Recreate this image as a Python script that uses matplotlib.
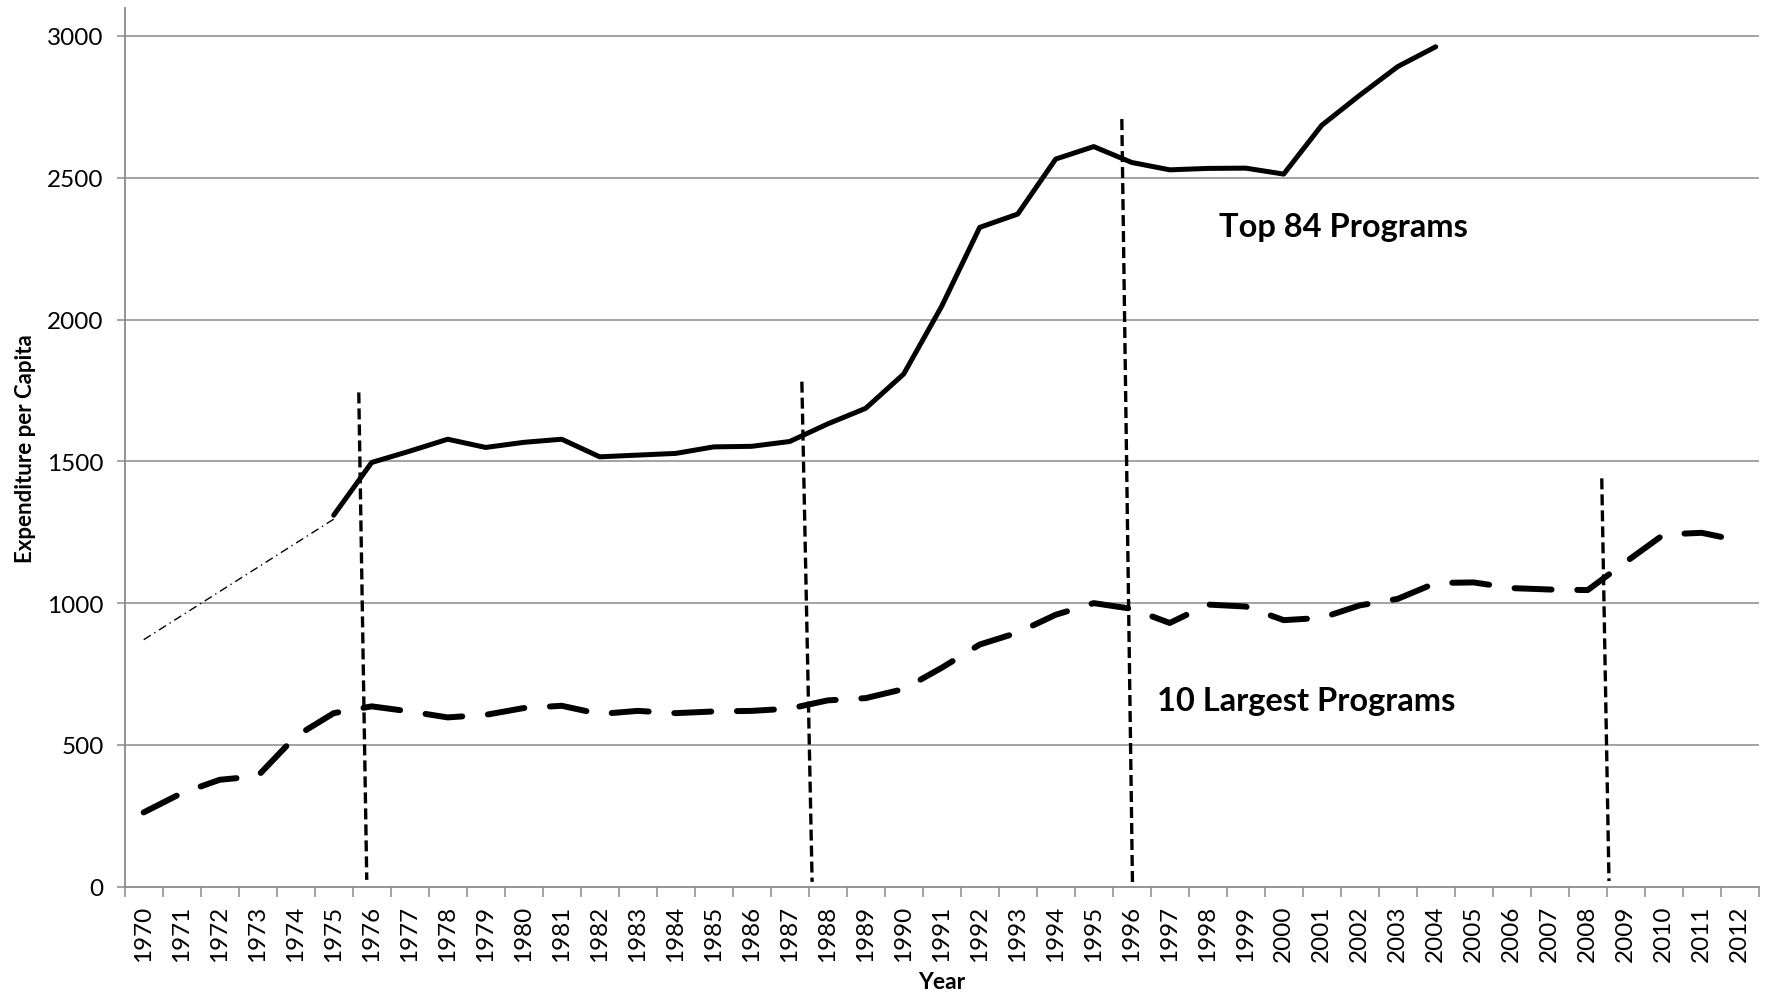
import matplotlib
matplotlib.use("Agg")
import matplotlib.pyplot as plt
import numpy as np

# ---------------- data ----------------
years = list(range(1970, 2013))

largest10 = [262, 330, 377, 390, 530, 612, 636, 618, 597, 606, 630, 638, 609, 620,
             612, 618, 620, 628, 657, 665, 697, 772, 854, 896, 959, 1000, 980, 930,
             995, 988, 940, 948, 992, 1015, 1071, 1073, 1053, 1048, 1046, 1145, 1242,
             1248, 1220]

top84_years = list(range(1975, 2005))
top84 = [1310, 1496, 1536, 1578, 1549, 1567, 1578, 1516, 1522, 1528, 1551, 1553,
         1570, 1632, 1687, 1808, 2047, 2325, 2372, 2566, 2610, 2554, 2528, 2533,
         2534, 2513, 2685, 2791, 2892, 2962]

backcast_years = [1970, 1975]
backcast = [871, 1296]

# vertical "break" markers (year position, value) top and bottom
break_top_x = [1975.66, 1987.32, 1995.74, 2008.37]
break_top_y = [1743, 1781, 2707, 1440]
break_bot_x = [1975.87, 1987.59, 1996.02, 2008.56]
break_bot_y = [24, 17, 16, 20]

yticks = [0, 500, 1000, 1500, 2000, 2500, 3000]
label_top = "Top 84 Programs"
label_low = "10 Largest Programs"

# ---------------- style ----------------
plt.rcParams['font.family'] = ['Lato', 'DejaVu Sans']
GRID = '#8a8a8a'

W, H = 1769, 995
fig = plt.figure(figsize=(W / 100, H / 100), dpi=100)
ax_left, ax_right = 124.7 / W, 1758.7 / W
ax_bottom, ax_top = (H - 887.7) / H, (H - 9) / H
ax = fig.add_axes([ax_left, ax_bottom, ax_right - ax_left, ax_top - ax_bottom])

ax.set_xlim(1969.5, 2012.5)
ax.set_ylim(0, 3098.7)

# grid
for v in yticks[1:]:
    ax.axhline(v, color=GRID, lw=1.1, zorder=1)

# series
ax.plot(backcast_years, backcast, color='black', lw=1.0,
        dashes=(6, 3, 1, 3), zorder=3)
ax.plot(top84_years, top84, color='black', lw=3.6, solid_capstyle='round',
        solid_joinstyle='round', zorder=4)
ax.plot(years, largest10, color='black', lw=4.3, dashes=(6.2, 4.3),
        dash_capstyle='round', dash_joinstyle='round', zorder=4)

for xt, yt, xb, yb in zip(break_top_x, break_top_y, break_bot_x, break_bot_y):
    ax.plot([xt, xb], [yt, yb], color='black', lw=2.4, dashes=(3.3, 1.5),
            dash_capstyle='butt', zorder=5)

# annotations
ax.text(1998.30, 2296, label_top, fontsize=23.5, fontweight='bold',
        ha='left', va='baseline', zorder=6)
ax.text(1996.66, 623, label_low, fontsize=23.5, fontweight='bold',
        ha='left', va='baseline', zorder=6)

# spines
for s in ['top', 'right']:
    ax.spines[s].set_visible(False)
for s in ['left', 'bottom']:
    ax.spines[s].set_color(GRID)
    ax.spines[s].set_linewidth(1.3)

# ticks
ax.set_yticks(yticks)
ax.set_yticklabels([str(v) for v in yticks])
ax.tick_params(axis='y', which='major', length=6, width=1.1, color=GRID,
               labelsize=17.5, pad=9, direction='out')

ax.set_xticks(years)
ax.set_xticklabels([str(y) for y in years], rotation=90)
ax.set_xticks(np.arange(1969.5, 2013.0, 1.0), minor=True)
ax.tick_params(axis='x', which='major', length=0, labelsize=17.5, pad=13)
ax.tick_params(axis='x', which='minor', length=7, width=1.1, color=GRID,
               direction='out')

ax.set_xlabel('Year', fontsize=16.5, fontweight='bold', labelpad=7)
ax.set_ylabel('Expenditure per Capita', fontsize=16, fontweight='bold',
              labelpad=8)

fig.savefig('out.png', dpi=100)
